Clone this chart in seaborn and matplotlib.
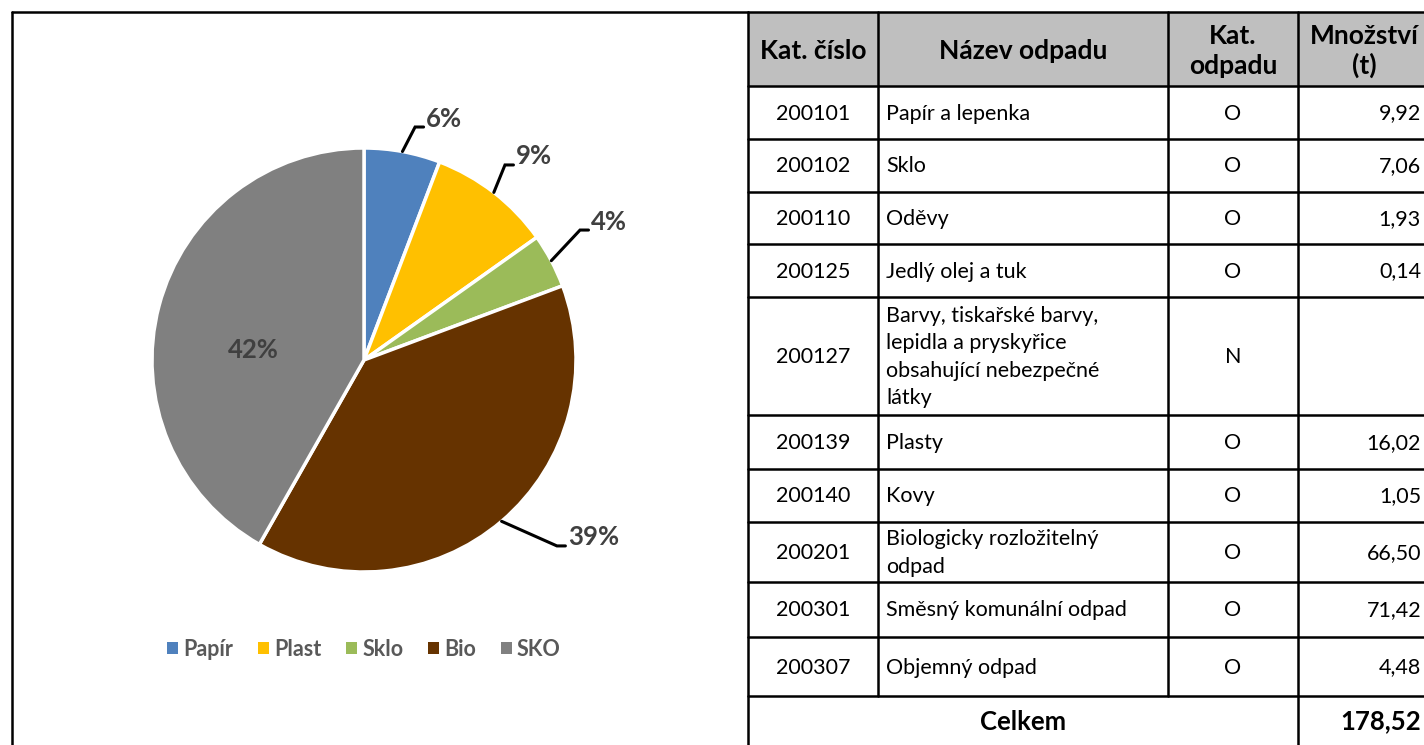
import numpy as np
import matplotlib
matplotlib.use("Agg")
import matplotlib.pyplot as plt
from matplotlib.patches import Rectangle, Patch
import seaborn as sns

# pie data (t)
kategorie = ['Papír', 'Plast', 'Sklo', 'Bio', 'SKO']
hmotnost = [9.92, 16.02, 7.06, 66.50, 71.42]
barvy = ['#4F81BD', '#FFC000', '#9BBB59', '#663300', '#808080']

# table data
kat_cislo = ['200101', '200102', '200110', '200125', '200127',
             '200139', '200140', '200201', '200301', '200307']
nazev = ['Papír a lepenka', 'Sklo', 'Oděvy', 'Jedlý olej a tuk',
         'Barvy, tiskařské barvy,\nlepidla a pryskyřice\nobsahující nebezpečné\nlátky',
         'Plasty', 'Kovy', 'Biologicky rozložitelný\nodpad',
         'Směsný komunální odpad', 'Objemný odpad']
kat_odpadu = ['O', 'O', 'O', 'O', 'N', 'O', 'O', 'O', 'O', 'O']
mnozstvi = [9.92, 7.06, 1.93, 0.14, None, 16.02, 1.05, 66.50, 71.42, 4.48]
hlavicka = ['Kat. číslo', 'Název odpadu', 'Kat.\nodpadu', 'Množství\n(t)']

sns.set_theme(style='white')
plt.rcParams['font.family'] = ['Lato', 'DejaVu Sans']

W, H = 1424, 745
fig = plt.figure(figsize=(W / 100, H / 100), dpi=100)

# background axes in pixel coordinates for frame + table
bg = fig.add_axes([0, 0, 1, 1])
bg.set_xlim(0, W)
bg.set_ylim(H, 0)
bg.axis('off')

lw = 1.8
# left panel frame
bg.plot([12, 748], [12, 12], color='black', lw=lw)
bg.plot([12, 12], [12, 760], color='black', lw=lw)

# table layout
col_x = [748, 878, 1168, 1298, 1430]
row_y = [12, 86, 139, 192, 244, 297, 415, 469, 522, 582, 637, 696, 760]
fs_body = 15.5
fs_head = 19

bg.add_patch(Rectangle((col_x[0], row_y[0]), W - col_x[0], row_y[1] - row_y[0],
                       facecolor='#BFBFBF', edgecolor='none'))
for y in row_y[:-1]:
    bg.plot([col_x[0], W + 10], [y, y], color='black', lw=lw)
for x in col_x[1:3]:
    bg.plot([x, x], [row_y[0], row_y[-2]], color='black', lw=lw)
for x in [col_x[0], col_x[3]]:
    bg.plot([x, x], [row_y[0], row_y[-1]], color='black', lw=lw)

hy = (row_y[0] + row_y[1]) / 2
for i, h in enumerate(hlavicka):
    hx = (col_x[i] + col_x[i + 1]) / 2
    bg.text(hx, hy + 2, h, ha='center', va='center', fontsize=fs_head,
            fontweight='bold', color='black', linespacing=1.25)

for r in range(len(kat_cislo)):
    ry = (row_y[r + 1] + row_y[r + 2]) / 2 + 1
    bg.text((col_x[0] + col_x[1]) / 2, ry, kat_cislo[r], ha='center', va='center',
            fontsize=fs_body, color='black')
    bg.text(col_x[1] + 8, ry, nazev[r], ha='left', va='center', fontsize=fs_body,
            color='black', linespacing=1.45)
    bg.text((col_x[2] + col_x[3]) / 2, ry, kat_odpadu[r], ha='center', va='center',
            fontsize=fs_body, color='black')
    if mnozstvi[r] is not None:
        bg.text(1421, ry, f"{mnozstvi[r]:.2f}".replace('.', ','), ha='right',
                va='center', fontsize=fs_body, color='black')

celkem = sum(v for v in mnozstvi if v is not None)
ry = (row_y[-2] + 745) / 2 + 1
bg.text((col_x[0] + col_x[3]) / 2, ry, 'Celkem', ha='center', va='center',
        fontsize=18.5, fontweight='bold', color='black')
bg.text(1421, ry, f"{celkem:.2f}".replace('.', ','), ha='right', va='center',
        fontsize=18.5, fontweight='bold', color='black')

# pie chart
cx, cy, rad = 364, 360, 212
ax = fig.add_axes([(cx - rad) / W, (H - cy - rad) / H, 2 * rad / W, 2 * rad / H])
ax.patch.set_alpha(0)
wedges, _ = ax.pie(hmotnost, colors=barvy, startangle=90, counterclock=False,
                   wedgeprops=dict(edgecolor='white', linewidth=2.5))
ax.set_xlim(-1, 1)
ax.set_ylim(-1, 1)

total = sum(hmotnost)
procenta = [f"{round(100 * v / total)}%" for v in hmotnost]
lomy = [(0.241, 1.099), (0.665, 0.920), (1.019, 0.613), (0.910, -0.877), None]
for w, p, lom in zip(wedges, procenta, lomy):
    mid = np.deg2rad((w.theta1 + w.theta2) / 2)
    if lom is None:
        ax.text(-0.524, 0.047, p, ha='center', va='center', fontsize=18.5,
                fontweight='bold', color='#404040')
        continue
    ax0, ay0 = np.cos(mid), np.sin(mid)
    ex = lom[0] + 0.04
    ax.plot([ax0, lom[0], ex], [ay0, lom[1], lom[1]], color='black', lw=2.2,
            clip_on=False, solid_joinstyle='miter')
    ax.text(ex + 0.012, lom[1] + 0.04, p, ha='left', va='center', fontsize=18.5,
            fontweight='bold', color='#404040', clip_on=False)

handles = [Patch(facecolor=c, edgecolor='none') for c in barvy]
leg = fig.legend(handles, kategorie, loc='center', bbox_to_anchor=(cx / W, 1 - 649 / H),
                 ncol=5, frameon=False, handlelength=0.5, handleheight=0.5,
                 handletextpad=0.25, columnspacing=1.15,
                 prop={'weight': 'bold', 'size': 15.5})
for t in leg.get_texts():
    t.set_color('#595959')

fig.savefig('out.png', dpi=100)
